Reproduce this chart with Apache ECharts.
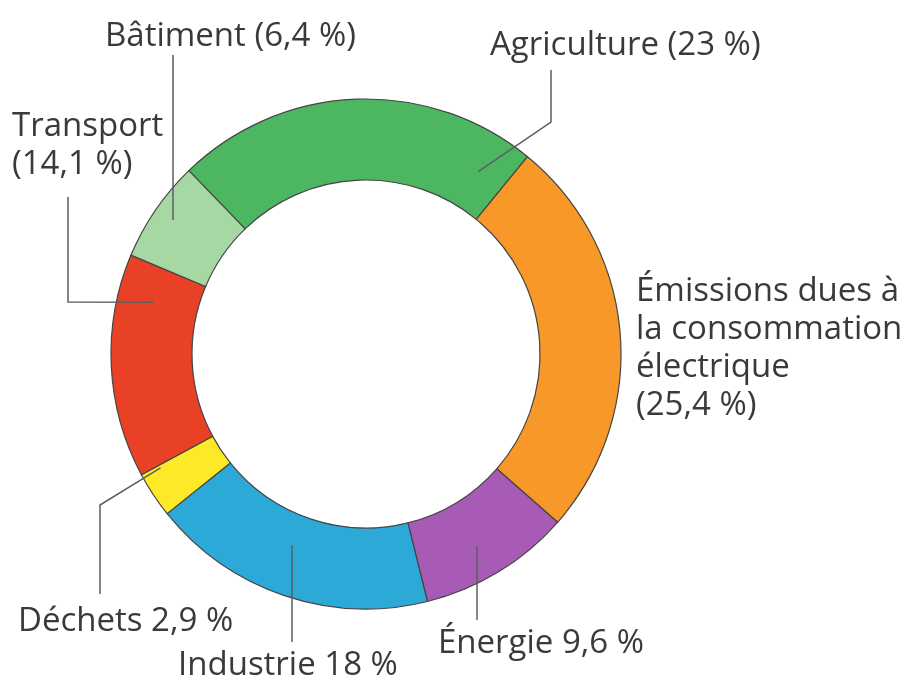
<!DOCTYPE html>
<html>
<head>
<meta charset="utf-8">
<script src="https://cdn.jsdelivr.net/npm/echarts@6/dist/echarts.min.js"></script>
<style>
  html, body { margin: 0; padding: 0; background: #ffffff; }
  #chart { width: 911px; height: 684px; }
</style>
</head>
<body>
<div id="chart"></div>
<script>
// ---- Data ----
const categories = [
  'Agriculture',
  'Émissions dues à\nla consommation\nélectrique',
  'Énergie',
  'Industrie',
  'Déchets',
  'Transport',
  'Bâtiment'
];
const values = [23, 25.4, 9.6, 18, 2.9, 14.1, 6.4];
// label style: 'inline' = "Name (v %)", 'newline' = "Name\n(v %)", 'plain' = "Name v %"
const labelFormats = ['inline', 'newline', 'plain', 'plain', 'plain', 'newline', 'inline'];

// ---- Styles / layout ----
const colors = ['#4cb760', '#f79829', '#a85bb4', '#2ca9d6', '#fde928', '#e84125', '#a6d8a3'];
const CX = 366, CY = 354, R_IN = 174, R_OUT = 255;

// label anchor (left x, vertical centre y) and leader line: start at polar (deg, r), then bends
const labelLayouts = [
  { x: 490, y: 46,  line: { a: 58.4,  r: 214, pts: [[551, 122], [551, 70]] } },
  { x: 636, y: 349, line: null },
  { x: 438, y: 644, line: { a: -60,   r: 222, pts: [[477, 583], [477, 620]] } },
  { x: 178, y: 666, line: { a: -111.2, r: 205, pts: [[292, 595], [292, 642]] } },
  { x: 18,  y: 622, line: { a: -151,  r: 235, pts: [[100, 505], [100, 594]] } },
  { x: 12,  y: 146, line: { a: 166.3, r: 219, pts: [[68, 302], [68, 197]] } },
  { x: 105, y: 37,  line: { a: 145.2, r: 235, pts: [[173, 140], [173, 55]] } }
];

function fmtVal(v) { return String(v).replace('.', ','); }
function labelText(i) {
  const n = categories[i], v = fmtVal(values[i]) + ' %';
  if (labelFormats[i] === 'inline') return n + ' (' + v + ')';
  if (labelFormats[i] === 'newline') return n + '\n(' + v + ')';
  return n + ' ' + v;
}
function polar(a, r) {
  const rad = a * Math.PI / 180;
  return [CX + r * Math.cos(rad), CY - r * Math.sin(rad)];
}

const common = {
  type: 'pie',
  center: [CX, CY],
  radius: [R_IN, R_OUT],
  startAngle: 134,
  clockwise: true,
  avoidLabelOverlap: false,
  silent: true
};

const chart = echarts.init(document.getElementById('chart'), null, { renderer: 'canvas' });
chart.setOption({
  animation: false,
  backgroundColor: '#ffffff',
  series: [
    Object.assign({}, common, {
      z: 2,
      itemStyle: { borderColor: '#454545', borderWidth: 1.2 },
      label: { show: false },
      labelLine: { show: false },
      data: categories.map((c, i) => ({
        name: c, value: values[i], itemStyle: { color: colors[i] }
      }))
    }),
    Object.assign({}, common, {
      z: 5,
      itemStyle: { color: 'rgba(0,0,0,0)', borderWidth: 0 },
      label: {
        show: true,
        position: 'outside',
        formatter: p => labelText(p.dataIndex),
        fontFamily: 'Open Sans',
        fontSize: 33,
        lineHeight: 38,
        color: '#3a3a3a'
      },
      labelLine: {
        show: true,
        length: 10,
        length2: 10,
        lineStyle: { color: '#5e5e5e', width: 1.5 }
      },
      labelLayout: function (params) {
        const L = labelLayouts[params.dataIndex];
        const out = { x: L.x, y: L.y, align: 'left', verticalAlign: 'middle' };
        if (L.line) {
          out.labelLinePoints = [polar(L.line.a, L.line.r)].concat(L.line.pts);
        }
        return out;
      },
      data: categories.map((c, i) => ({
        name: c,
        value: values[i],
        labelLine: { show: labelLayouts[i].line !== null }
      }))
    })
  ]
});
</script>
</body>
</html>
